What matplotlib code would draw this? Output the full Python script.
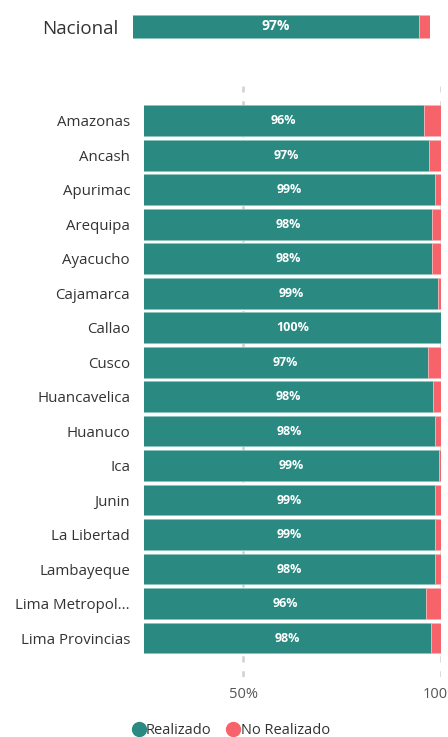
import numpy as np
import matplotlib.pyplot as plt
from matplotlib.lines import Line2D

plt.rcParams['font.family'] = ['Open Sans', 'DejaVu Sans']

regiones = ["Amazonas", "Ancash", "Apurimac", "Arequipa", "Ayacucho",
            "Cajamarca", "Callao", "Cusco", "Huancavelica", "Huanuco",
            "Ica", "Junin", "La Libertad", "Lambayeque", "Lima Metropol...",
            "Lima Provincias"]
realizado = [95.6, 97.0, 98.6, 97.8, 97.8, 99.3, 100.0, 96.6, 98.1, 98.4,
             99.4, 98.6, 98.6, 98.4, 96.2, 97.6]
nacional = 97.2

verde = "#2A8A82"
rojo = "#F7636A"
texto = "#333333"
x0, x1 = 25, 100

fig = plt.figure(figsize=(4.48, 7.37), dpi=100)
W, H = 448, 737


def axes_px(left, top, right, bottom):
    return fig.add_axes([left / W, 1 - bottom / H, (right - left) / W, (bottom - top) / H])


def barras(ax, valores, alto, fs):
    y = np.arange(len(valores))
    no_real = [100 - v for v in valores]
    ax.barh(y, valores, height=alto, color=verde, edgecolor="#8cc3bd", linewidth=0.6, zorder=2)
    ax.barh(y, no_real, left=valores, height=alto, color=rojo, edgecolor="#f9b3b6", linewidth=0.6, zorder=2)
    for yi, v in zip(y, valores):
        ax.text((x0 + v) / 2, yi, f"{round(v):.0f}%", ha="center", va="center",
                color="white", fontsize=fs, fontweight="bold", zorder=3)
    ax.set_xlim(x0, x1)
    for s in ax.spines.values():
        s.set_visible(False)


# barra nacional
axn = axes_px(133, 12, 430, 41)
barras(axn, [nacional], 0.8, 10)
axn.set_ylim(0.5, -0.5)
axn.set_yticks([0])
axn.set_yticklabels(["Nacional"], fontsize=13.5, color=texto)
axn.tick_params(axis="y", length=0, pad=10.5)
axn.set_xticks([])

# barras por region
ax = axes_px(144, 86, 441, 677)
barras(ax, realizado, 0.89, 9)
ax.set_ylim(len(regiones) - 1 + 1.13, -1.01)
ax.set_yticks(np.arange(len(regiones)))
ax.set_yticklabels(regiones, fontsize=10.8, color=texto)
ax.tick_params(axis="y", length=0, pad=10)
ax.set_xticks([50, 100])
ax.set_xticklabels(["50%", "100%"], fontsize=10.5, color="#555555")
ax.tick_params(axis="x", length=0, pad=7)
ax.grid(axis="x", color="#D0D0D0", linestyle=(0, (2.5, 3.5)), linewidth=1.8, zorder=0)
ax.set_axisbelow(True)

handles = [Line2D([], [], marker="o", linestyle="", markersize=10, color=verde),
           Line2D([], [], marker="o", linestyle="", markersize=10, color=rojo)]
fig.legend(handles, ["Realizado", "No Realizado"], loc="center left",
           bbox_to_anchor=(124 / W, 1 - 731 / H), ncol=2, frameon=False,
           fontsize=10.5, handletextpad=-0.5, columnspacing=0.5, labelcolor=texto,
           borderaxespad=0, borderpad=0)

plt.savefig("out.png", dpi=100)
